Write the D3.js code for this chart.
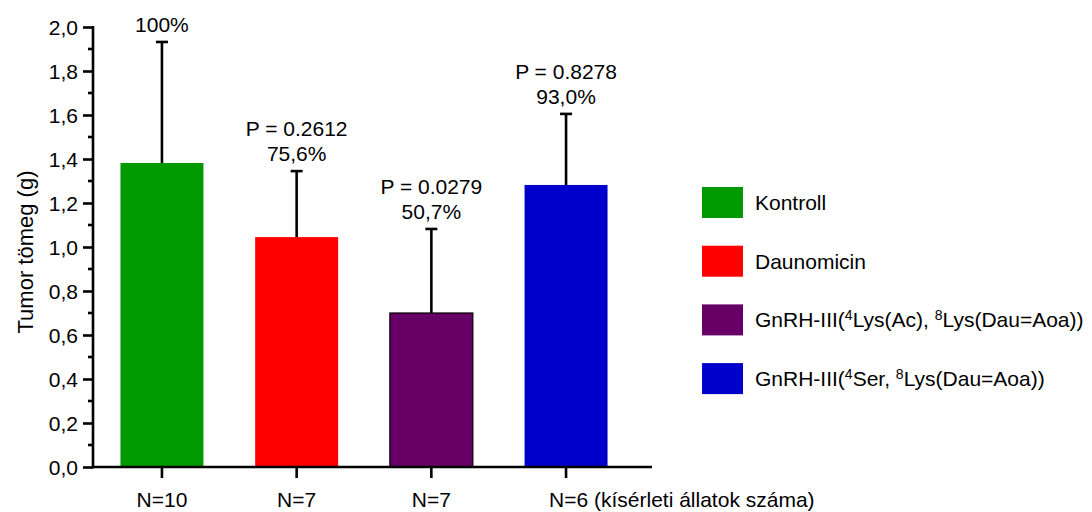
<!DOCTYPE html>
<html>
<head>
<meta charset="utf-8">
<script src="https://cdn.jsdelivr.net/npm/d3@7"></script>
<style>
  body { margin: 0; background: #fff; }
  svg text { font-family: "Liberation Sans", Arial, Helvetica, sans-serif; fill: #000; }
</style>
</head>
<body>
<div id="chart"></div>
<script>
// data
const groups = ["Kontroll", "Daunomicin", "GnRH-III(4Lys(Ac), 8Lys(Dau=Aoa))", "GnRH-III(4Ser, 8Lys(Dau=Aoa))"];
const nLabels = ["N=10", "N=7", "N=7", "N=6 (kísérleti állatok száma)"];
const means = [1.382, 1.045, 0.70, 1.282];
const errTops = [1.932, 1.345, 1.082, 1.605];
const pLabels = [null, "P = 0.2612", "P = 0.0279", "P = 0.8278"];
const pctLabels = ["100%", "75,6%", "50,7%", "93,0%"];
const colors = ["#009900", "#ff0000", "#660066", "#0000cc"];
// legend entries as [before superscript, sup, middle, sup, after]
const legendParts = [
  ["Kontroll"],
  ["Daunomicin"],
  ["GnRH-III(", "4", "Lys(Ac), ", "8", "Lys(Dau=Aoa))"],
  ["GnRH-III(", "4", "Ser, ", "8", "Lys(Dau=Aoa))"]
];
const yTicks = d3.range(0, 2.01, 0.2);
const yMinor = d3.range(0.1, 2.0, 0.2);

const W = 1092, H = 512;
const FS = "21px";
const svg = d3.select("#chart").append("svg")
    .attr("width", W).attr("height", H);

const y = d3.scaleLinear().domain([0, 2]).range([467, 27]);
const x = d3.scaleBand().domain(d3.range(groups.length))
    .range([94.6, 633.4]).paddingInner(0.384).paddingOuter(0.192);

const fmt = d => d3.format(".1f")(d).replace(".", ",");

// bars
svg.append("g").selectAll("rect")
    .data(means)
    .join("rect")
    .attr("x", (d, i) => x(i))
    .attr("y", d => y(d))
    .attr("width", x.bandwidth())
    .attr("height", d => y(0) - y(d))
    .attr("fill", (d, i) => colors[i])
    .attr("stroke", (d, i) => i === 2 ? "#000" : "none")
    .attr("stroke-width", 1.2);

// error bars (upper only)
const eb = svg.append("g").attr("stroke", "#000").attr("stroke-width", 2.6);
errTops.forEach(function (e, i) {
    const cx = x(i) + x.bandwidth() / 2;
    eb.append("line").attr("x1", cx).attr("x2", cx).attr("y1", y(means[i])).attr("y2", y(e));
    eb.append("line").attr("x1", cx - 6).attr("x2", cx + 6).attr("y1", y(e)).attr("y2", y(e));
});

// annotations
const ann = svg.append("g").attr("text-anchor", "middle").style("font-size", FS);
errTops.forEach(function (e, i) {
    const cx = x(i) + x.bandwidth() / 2;
    ann.append("text").attr("x", cx).attr("y", y(e) - 10).text(pctLabels[i]);
    if (pLabels[i]) ann.append("text").attr("x", cx).attr("y", y(e) - 35).text(pLabels[i]);
});

// y axis
const yAxis = svg.append("g").attr("transform", "translate(93,0)")
    .call(d3.axisLeft(y).tickValues(yTicks).tickFormat(fmt).tickSize(10).tickPadding(5));
yAxis.select(".domain").remove();
yAxis.selectAll(".tick line").attr("stroke-width", 2.6);
yAxis.selectAll(".tick text").style("font-size", FS).attr("dy", "0.34em");
yAxis.append("g").selectAll("line")
    .data(yMinor)
    .join("line")
    .attr("x1", -5).attr("x2", 0)
    .attr("y1", d => y(d)).attr("y2", d => y(d))
    .attr("stroke", "#000").attr("stroke-width", 2.6);
yAxis.append("line")
    .attr("x1", 0).attr("x2", 0).attr("y1", y(2) - 1).attr("y2", y(0) + 1.3)
    .attr("stroke", "#000").attr("stroke-width", 2.6);

// x axis
const xAxis = svg.append("g").attr("transform", "translate(0,467)")
    .call(d3.axisBottom(x).tickFormat(i => nLabels[i]).tickSize(11).tickPadding(14));
xAxis.select(".domain").remove();
xAxis.selectAll(".tick line").attr("stroke-width", 2.6);
xAxis.selectAll(".tick text").style("font-size", FS);
// last label starts just left of its tick
xAxis.selectAll(".tick").filter((d, i) => i === 3).select("text")
    .attr("text-anchor", "start").attr("x", -17);
xAxis.append("line").attr("x1", 91.7).attr("x2", 652).attr("y1", 0).attr("y2", 0)
    .attr("stroke", "#000").attr("stroke-width", 2.6);

// y title
svg.append("text")
    .attr("transform", "translate(33,252) rotate(-90)")
    .attr("text-anchor", "middle")
    .style("font-size", "22px")
    .text("Tumor tömeg (g)");

// legend
const leg = svg.append("g").attr("transform", "translate(702,187)");
legendParts.forEach(function (parts, i) {
    const g = leg.append("g").attr("transform", "translate(0," + (i * 58.7) + ")");
    g.append("rect").attr("width", 41).attr("height", 31).attr("fill", colors[i]);
    const t = g.append("text").attr("x", 53).attr("y", 23).style("font-size", FS);
    parts.forEach(function (p, k) {
        const sup = k % 2 === 1;
        t.append("tspan")
            .attr("dy", sup ? -7 : (k > 0 ? 7 : 0))
            .style("font-size", sup ? "14px" : FS)
            .text(p);
    });
});
</script>
</body>
</html>
